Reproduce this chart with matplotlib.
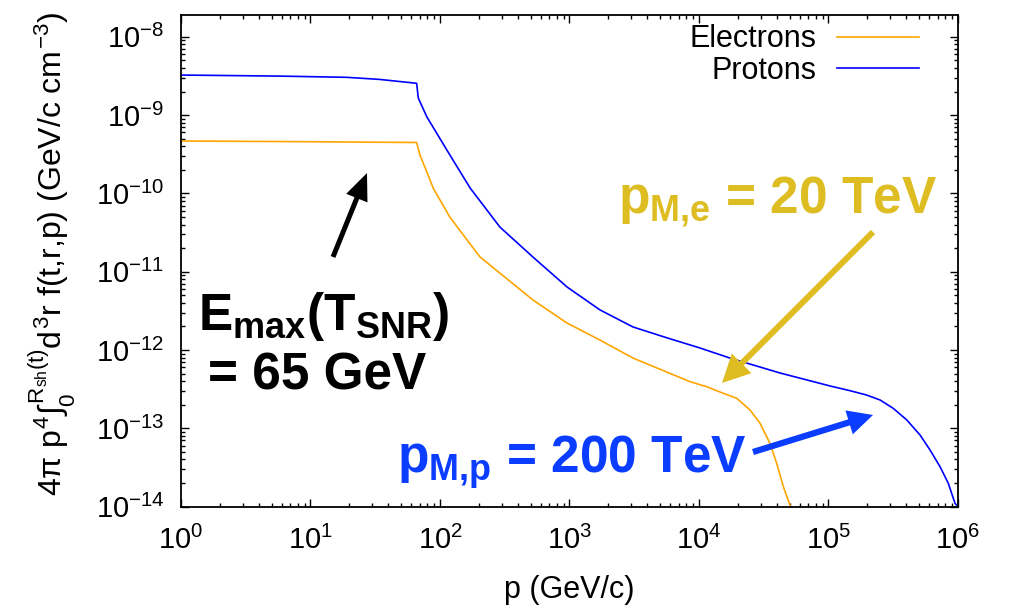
import matplotlib
matplotlib.use('Agg')
import matplotlib.pyplot as plt
from matplotlib.ticker import LogLocator, NullFormatter

# ---- data ----
p_electrons = [1, 5.8, 66, 70, 79, 88.8, 119, 162, 204, 290, 522, 957, 1720, 3090,
               8530, 1.146e4, 1.54e4, 1.955e4, 2.48e4, 2.96e4, 3.53e4, 3.98e4, 4.48e4, 5.1e4]
f_electrons = [4.67e-10, 4.6e-10, 4.47e-10, 3.09e-10, 1.89e-10, 1.16e-10, 5.0e-11,
               2.54e-11, 1.54e-11, 9.6e-12, 4.36e-12, 2.21e-12, 1.34e-12, 7.9e-13,
               3.94e-13, 3.40e-13, 2.80e-13, 2.42e-13, 1.71e-13, 1.16e-13, 6.43e-14,
               3.57e-14, 1.80e-14, 9.9e-15]

p_protons = [1, 5.8, 19, 34, 66, 68, 79, 113, 171, 290, 522, 957, 1720, 3090, 5660,
             1.02e4, 1.73e4, 4.2e4, 1.03e5, 1.47e5, 1.97e5, 2.5e5, 3.16e5, 4.02e5,
             5.09e5, 6.08e5, 7.26e5, 8.41e5, 9.48e5, 1e6]
f_protons = [3.25e-9, 3.15e-9, 3.04e-9, 2.86e-9, 2.55e-9, 1.65e-9, 9.55e-10, 3.58e-10,
             1.17e-10, 3.72e-11, 1.54e-11, 6.38e-12, 3.25e-12, 1.97e-12, 1.43e-12,
             1.06e-12, 7.9e-13, 5.1e-13, 3.47e-13, 3.02e-13, 2.66e-13, 2.30e-13,
             1.80e-13, 1.28e-13, 8.22e-14, 5.29e-14, 3.24e-14, 1.99e-14, 1.10e-14, 1.0e-14]

series_labels = ['Electrons', 'Protons']
x_label = 'p (GeV/c)'
y_label = r'$4\pi\ p^4\int_0^{R_{sh}(t)}d^3r\ f(t{,}r{,}p)\ (GeV/c\ cm^{-3})$'
emax_lines = [r'$\mathbf{E}_{\mathbf{max}}\mathbf{(T}_{\mathbf{SNR}}\mathbf{)}$', '= 65 GeV']
pme_text = r'$\mathbf{p}_{\mathbf{M{,}e}}$ = 20 TeV'
pmp_text = r'$\mathbf{p}_{\mathbf{M{,}p}}$ = 200 TeV'

plt.rcParams.update({
    'font.family': ['Liberation Sans', 'DejaVu Sans'],
    'mathtext.fontset': 'custom',
    'mathtext.rm': 'Liberation Sans',
    'mathtext.it': 'Liberation Sans',
    'mathtext.bf': 'Liberation Sans:bold',
    'mathtext.sf': 'Liberation Sans',
    'axes.unicode_minus': False,
})

W, H = 1012, 607
fig = plt.figure(figsize=(W / 100, H / 100), dpi=100)
ax = fig.add_axes([181 / W, 1 - 506.6 / H, 777 / W, 491.6 / H])

ax.plot(p_electrons, f_electrons, color='#FFA500', lw=1.2, label=series_labels[0])
ax.plot(p_protons, f_protons, color='#0000FF', lw=1.2, label=series_labels[1])

ax.set_xscale('log')
ax.set_yscale('log')
ax.set_xlim(1, 1e6)
ax.set_ylim(1e-14, 1.9e-8)

ax.xaxis.set_major_locator(LogLocator(base=10, numticks=20))
ax.yaxis.set_major_locator(LogLocator(base=10, numticks=20))
ax.xaxis.set_minor_locator(LogLocator(base=10, subs=range(2, 10), numticks=100))
ax.yaxis.set_minor_locator(LogLocator(base=10, subs=range(2, 10), numticks=100))
ax.xaxis.set_minor_formatter(NullFormatter())
ax.yaxis.set_minor_formatter(NullFormatter())

ax.tick_params(which='both', direction='in', top=True, right=True, width=1.0, color='black')
ax.tick_params(which='major', length=6, labelsize=21)
ax.tick_params(which='minor', length=3)
ax.tick_params(axis='x', which='major', pad=14)
ax.tick_params(axis='y', which='major', pad=12)
for s in ax.spines.values():
    s.set_linewidth(1.3)

ax.set_xlabel(x_label, fontsize=22, labelpad=14)
ax.set_ylabel(y_label, fontsize=23)
ax.yaxis.set_label_coords(-0.132, 0.515)

ax.legend(loc='upper right', bbox_to_anchor=(0.95, 0.981), frameon=False,
          markerfirst=False, fontsize=22, handlelength=2.7, handletextpad=0.65,
          labelspacing=0.05, borderpad=0, borderaxespad=0)

def fx(x):
    return x / W

def fy(y):
    return 1 - y / H

fig.text(fx(198), fy(330), emax_lines[0], fontsize=37, fontweight='bold', color='black',
         ha='left', va='baseline')
fig.text(fx(208), fy(389), emax_lines[1], fontsize=37, fontweight='bold', color='black',
         ha='left', va='baseline')
fig.text(fx(618), fy(213), pme_text, fontsize=37, fontweight='bold', color='#DDBD22',
         ha='left', va='baseline')
fig.text(fx(397), fy(473), pmp_text, fontsize=37, fontweight='bold', color='#0A3DFF',
         ha='left', va='baseline')

def arrow(tail, tip, color, tw, hw, hl):
    ax.annotate('', xy=(tip[0], H - tip[1]), xytext=(tail[0], H - tail[1]),
                xycoords='figure pixels', textcoords='figure pixels',
                arrowprops=dict(arrowstyle=f'simple,head_length={hl},head_width={hw},tail_width={tw}',
                                color=color, lw=0, shrinkA=0, shrinkB=0, mutation_scale=10))

arrow((333, 257), (367, 173), 'black', 0.36, 1.65, 1.95)
arrow((873, 232), (722, 383), '#DDBD22', 0.43, 2.0, 2.0)
arrow((753, 452), (873, 415), '#0A3DFF', 0.45, 1.8, 1.8)

fig.savefig('out.png', dpi=100)
